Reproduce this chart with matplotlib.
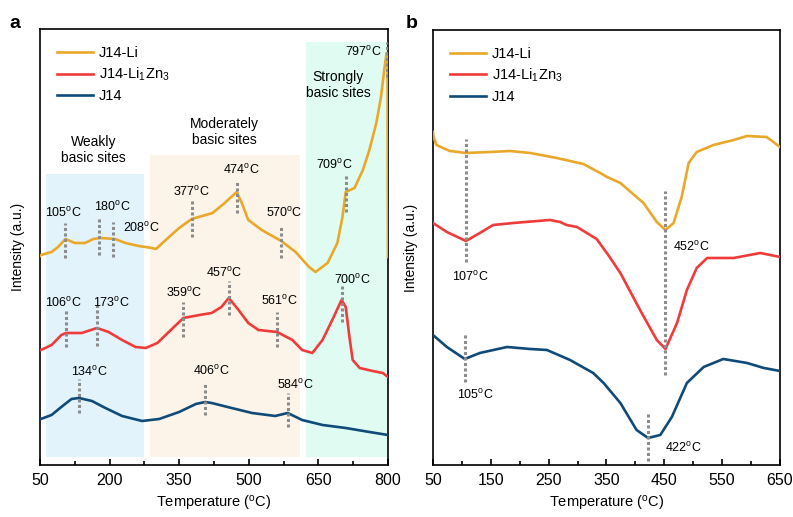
import numpy as np
import matplotlib
matplotlib.use("Agg")
import matplotlib.pyplot as plt

plt.rcParams['font.family'] = ['Liberation Sans', 'DejaVu Sans']
plt.rcParams['mathtext.fontset'] = 'custom'
plt.rcParams['mathtext.rm'] = 'Liberation Sans'
plt.rcParams['mathtext.it'] = 'Liberation Sans:italic'

# ---- panel a: CO2-TPD (arbitrary intensity units) ----
a_li_T = [50, 52, 75, 89, 105, 125, 147, 165, 180, 212, 234, 263, 291, 300, 321, 350, 377, 422, 448,
          474, 485, 499, 528, 570, 601, 630, 644, 670, 691, 702, 709, 728, 746, 760, 775, 785, 792, 797, 799, 800]
a_li_I = [209, 210, 213, 218, 226, 222, 222, 226, 227, 226, 222, 219, 217, 216, 225, 237, 246, 252, 262,
          273, 262, 245, 235, 224, 213, 198, 193, 202, 222, 248, 273, 277, 295, 315, 342, 368, 395, 412, 398, 208]

a_lizn_T = [50, 52, 75, 96, 106, 140, 173, 198, 227, 256, 278, 303, 332, 359, 394, 420, 441, 457, 478,
            499, 521, 561, 594, 615, 637, 659, 680, 700, 709, 717, 724, 739, 767, 789, 800]
a_lizn_I = [115, 115, 120, 130, 132, 132, 137, 133, 125, 118, 117, 122, 135, 147, 150, 152, 158, 167, 155,
            142, 135, 133, 125, 115, 112, 125, 145, 165, 158, 128, 105, 97, 94, 92, 88]

a_j14_T = [50, 52, 75, 96, 118, 134, 162, 191, 227, 270, 307, 350, 386, 406, 420, 463, 507, 557, 584,
           615, 659, 709, 760, 800]
a_j14_I = [46, 46, 50, 58, 66, 67, 64, 57, 49, 44, 46, 53, 61, 63, 62, 57, 52, 49, 52,
           45, 40, 37, 33, 30]

# ---- panel b ----
b_li_T = [50, 51, 56, 79, 107, 149, 183, 218, 264, 310, 339, 351, 374, 414, 437, 452, 466, 480, 492,
          506, 535, 570, 593, 627, 650]
b_li_I = [333, 328, 320, 314, 312, 313, 314, 312, 307, 301, 292, 288, 282, 262, 243, 235, 242, 268, 302,
          313, 320, 325, 329, 328, 318]

b_lizn_T = [50, 74, 107, 131, 154, 189, 252, 270, 281, 299, 333, 353, 374, 408, 437, 452, 472, 489, 506,
            524, 570, 616, 650]
b_lizn_I = [242, 233, 224, 232, 240, 242, 245, 243, 240, 238, 226, 210, 192, 155, 125, 116, 142, 175, 197,
            207, 207, 212, 208]

b_j14_T = [50, 74, 105, 131, 178, 218, 247, 287, 327, 345, 374, 402, 422, 443, 463, 489, 518, 552, 593,
           622, 650]
b_j14_I = [130, 118, 106, 112, 118, 116, 115, 105, 92, 82, 62, 35, 27, 30, 48, 82, 98, 106, 102,
           97, 94]

# peak markers: (T, y from, y to, label x, label y, ha)
a_marks = [
    (105, 207, 242, 100, 252, 'center'), (178, 210, 248, 206, 258, 'center'),
    (208, 208, 243, 230, 237, 'left'), (377, 228, 265, 376, 273, 'center'),
    (474, 252, 285, 483, 295, 'center'), (570, 207, 240, 576, 252, 'center'),
    (709, 253, 290, 685, 300, 'center'), (797, 388, 423, 746, 413, 'center'),
    (106, 118, 155, 100, 162, 'center'), (173, 119, 160, 204, 162, 'center'),
    (359, 128, 163, 361, 172, 'center'), (457, 150, 184, 448, 192, 'center'),
    (561, 118, 153, 565, 164, 'center'), (700, 143, 179, 724, 185, 'center'),
    (134, 52, 86, 157, 93, 'center'), (406, 50, 83, 420, 94, 'center'),
    (584, 38, 72, 600, 80, 'center'),
]
a_labels = ['105', '180', '208', '377', '474', '570', '709', '797',
            '106', '173', '359', '457', '561', '700', '134', '406', '584']

b_marks = [
    (107, 203, 326, 114, 188, 'center'), (452, 90, 274, 465, 218, 'left'),
    (105, 83, 132, 123, 70, 'center'), (422, 4, 53, 451, 17, 'left'),
]
b_labels = ['107', '452', '105', '422']

regions = [(63, 274, 291, '#e2f3fc'), (287, 611, 310, '#fcf4e8'), (624, 798, 423, '#e0fcf2')]
region_text = [(165, 315, 'Weakly\nbasic sites'), (448, 333, 'Moderately\nbasic sites'),
               (693, 380, 'Strongly\nbasic sites')]

c_li = '#e9a82a'
c_lizn = '#f03b3b'
c_j14 = '#0f4a78'
c_mark = '#8c8c8c'
names = ['J14-Li', 'J14-Li$_1$Zn$_3$', 'J14']

fig = plt.figure(figsize=(7.93, 5.17), dpi=100)
ax1 = fig.add_axes([0.0504, 0.1006, 0.4388, 0.8433])
ax2 = fig.add_axes([0.546, 0.1006, 0.4376, 0.8414])

for x0, x1, top, col in regions:
    ax1.fill_between([x0, x1], 8, top, color=col, lw=0, zorder=0)
for x, y, s in region_text:
    ax1.text(x, y, s, ha='center', va='center', fontsize=10, linespacing=1.15)

ax1.plot(a_li_T, a_li_I, color=c_li, lw=1.9, label=names[0], zorder=3)
ax1.plot(a_lizn_T, a_lizn_I, color=c_lizn, lw=1.9, label=names[1], zorder=3)
ax1.plot(a_j14_T, a_j14_I, color=c_j14, lw=1.9, label=names[2], zorder=3)

ax2.plot(b_li_T, b_li_I, color=c_li, lw=1.9, label=names[0], zorder=3)
ax2.plot(b_lizn_T, b_lizn_I, color=c_lizn, lw=1.9, label=names[1], zorder=3)
ax2.plot(b_j14_T, b_j14_I, color=c_j14, lw=1.9, label=names[2], zorder=3)

for ax, marks, labels in [(ax1, a_marks, a_labels), (ax2, b_marks, b_labels)]:
    for (t, y0, y1, lx, ly, ha), lab in zip(marks, labels):
        ax.plot([t, t], [y0, y1], color=c_mark, lw=2.2, ls=(0, (1, 0.8)), zorder=4)
        ax.text(lx, ly, lab + '$^{\\mathrm{o}}$C', ha=ha, va='center', fontsize=9, zorder=5)

ax1.set_xlim(50, 800)
ax1.set_xticks([50, 200, 350, 500, 650, 800])
ax1.set_xticks([125, 275, 425, 575, 725], minor=True)
ax2.set_xlim(50, 650)
ax2.set_xticks([50, 150, 250, 350, 450, 550, 650])
ax2.set_xticks([100, 200, 300, 400, 500, 600], minor=True)
ax1.set_ylim(0, 436)
ax2.set_ylim(0, 435)

for ax in (ax1, ax2):
    ax.set_yticks([])
    ax.tick_params(axis='x', which='both', direction='in', labelsize=11.5, pad=6)
    ax.tick_params(axis='x', which='major', length=4, width=1.2)
    ax.tick_params(axis='x', which='minor', length=3, width=1.2)
    for sp in ax.spines.values():
        sp.set_linewidth(1.2)
    ax.set_xlabel('Temperature ($^{\\mathrm{o}}$C)', fontsize=10.5)
    ax.set_ylabel('Intensity (a.u.)', fontsize=10, labelpad=11)
    ax.legend(loc='upper left', frameon=False, fontsize=10.5, handlelength=2.5,
              handletextpad=0.4, labelspacing=0.4, borderaxespad=0.75)

fig.text(0.012, 0.955, 'a', fontsize=14, fontweight='bold', va='center')
fig.text(0.512, 0.955, 'b', fontsize=14, fontweight='bold', va='center')

fig.savefig('out.png', dpi=100)
